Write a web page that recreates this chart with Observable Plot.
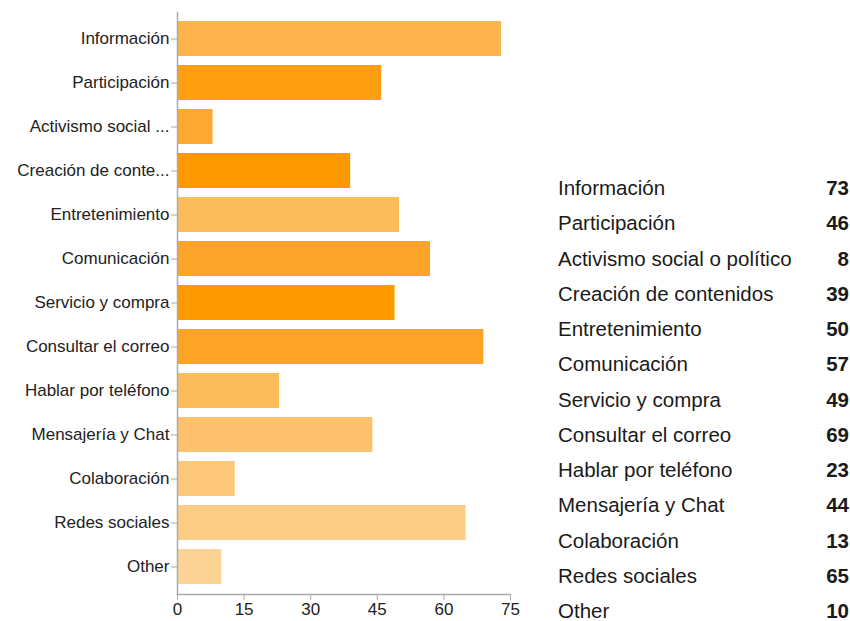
<!DOCTYPE html>
<html>
<head>
<meta charset="utf-8">
<script src="https://cdn.jsdelivr.net/npm/d3@7"></script>
<script src="https://cdn.jsdelivr.net/npm/@observablehq/plot@0.6"></script>
<style>
  html, body { margin: 0; padding: 0; background: #fff; }
  #wrap { position: relative; width: 850px; height: 621px; overflow: hidden; font-family: "Liberation Sans", Helvetica, Arial, sans-serif; }
  #chart { position: absolute; left: 0; top: 0; }
  #chart svg g[aria-label^="y-axis"] text { font-size: 17px; }
  #chart svg g[aria-label^="x-axis"] text { font-size: 17px; }
  #legend { position: absolute; left: 558px; top: 170px; width: 291px; }
  #legend .row { display: flex; justify-content: space-between; height: 35.25px; line-height: 35.25px; font-size: 20.5px; color: #1a1a1a; }
  #legend .val { font-weight: bold; }
</style>
</head>
<body>
<div id="wrap">
  <div id="chart"></div>
  <div id="legend"></div>
</div>
<script>
const categories = ["Información", "Participación", "Activismo social o político", "Creación de contenidos", "Entretenimiento", "Comunicación", "Servicio y compra", "Consultar el correo", "Hablar por teléfono", "Mensajería y Chat", "Colaboración", "Redes sociales", "Other"];
const shortLabels = ["Información", "Participación", "Activismo social ...", "Creación de conte...", "Entretenimiento", "Comunicación", "Servicio y compra", "Consultar el correo", "Hablar por teléfono", "Mensajería y Chat", "Colaboración", "Redes sociales", "Other"];
const values = [73, 46, 8, 39, 50, 57, 49, 69, 23, 44, 13, 65, 10];
const colors = ["#fdb44e", "#fea012", "#fda833", "#fe9a00", "#fdbc5a", "#fda42a", "#fe9a00", "#fda326", "#fdbc5c", "#fec26e", "#fec87a", "#fecd85", "#fed396"];
const xTicks = [0, 15, 30, 45, 60, 75];

const data = categories.map((c, i) => ({category: c, value: values[i], color: colors[i]}));
const labelOf = new Map(categories.map((c, i) => [c, shortLabels[i]]));

const plot = Plot.plot({
  width: 540,
  height: 621,
  marginLeft: 177,
  marginRight: 30,
  marginTop: 12,
  marginBottom: 27,
  style: {fontFamily: '"Liberation Sans", Helvetica, Arial, sans-serif', fontSize: "16px", color: "#222", background: "white"},
  x: {domain: [0, 75], ticks: xTicks, label: null},
  y: {domain: categories, paddingInner: 0.2, paddingOuter: 0.1, label: null},
  marks: [
    Plot.barX(data, {x: "value", y: "category", fill: "color"}),
    Plot.axisX({ticks: xTicks, tickSize: 6, tickPadding: 2, stroke: "#aaa", color: "#222", fontSize: 17, label: null}),
    Plot.axisY({tickSize: 6, tickPadding: 2, stroke: "#aaa", color: "#222", fontSize: 17, label: null, tickFormat: d => labelOf.get(d)}),
    Plot.frame({anchor: "left", stroke: "#aaa", strokeWidth: 1.5}),
    Plot.frame({anchor: "bottom", stroke: "#aaa", strokeWidth: 1.5})
  ]
});
document.getElementById("chart").appendChild(plot);

const legend = d3.select("#legend");
categories.forEach((c, i) => {
  const row = legend.append("div").attr("class", "row");
  row.append("span").text(c);
  row.append("span").attr("class", "val").text(values[i]);
});
</script>
</body>
</html>
